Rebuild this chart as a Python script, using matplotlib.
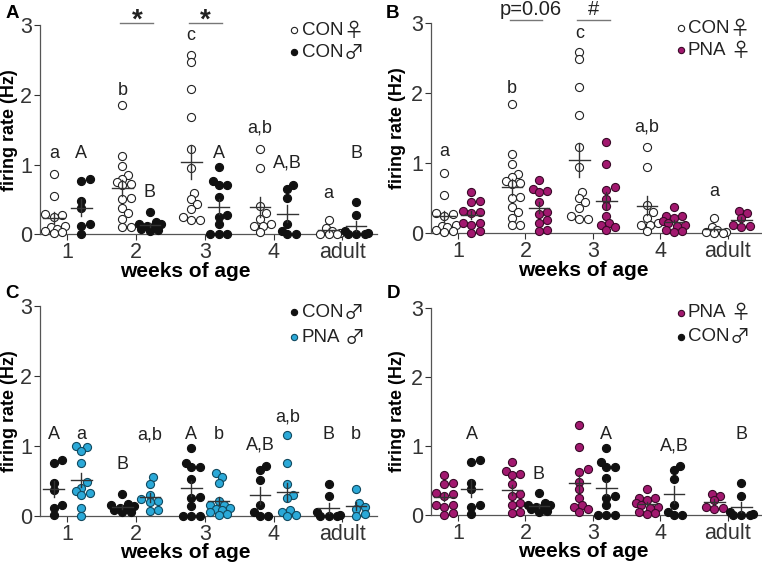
import numpy as np
import matplotlib
matplotlib.use('Agg')
import matplotlib.pyplot as plt

plt.rcParams['font.family'] = ['Liberation Sans', 'DejaVu Sans']

""" Data (firing rate, Hz) """

weeks = ['1', '2', '3', '4', 'adult']

con_f = [
    [0.86, 0.55, 0.29, 0.27, 0.25, 0.12, 0.10, 0.08, 0.04, 0.02, 0.03],
    [1.85, 1.13, 0.98, 0.85, 0.80, 0.75, 0.72, 0.70, 0.52, 0.50, 0.37, 0.30, 0.22, 0.11, 0.11],
    [2.58, 2.48, 2.08, 1.68, 1.23, 0.95, 0.59, 0.50, 0.44, 0.36, 0.24, 0.20, 0.20],
    [1.23, 0.95, 0.40, 0.30, 0.22, 0.15, 0.12, 0.12, 0.03],
    [0.21, 0.09, 0.05, 0.02, 0.01, 0.0, 0.0],
]
con_m = [
    [0.80, 0.76, 0.47, 0.37, 0.15, 0.12, 0.01],
    [0.32, 0.17, 0.15, 0.14, 0.12, 0.10, 0.08, 0.06, 0.05],
    [0.97, 0.76, 0.70, 0.70, 0.53, 0.27, 0.25, 0.14, 0.0, 0.0, 0.0],
    [0.71, 0.65, 0.52, 0.15, 0.05, 0.0, 0.0],
    [0.46, 0.28, 0.05, 0.02, 0.0, 0.0, 0.0],
]
pna_f = [
    [0.58, 0.46, 0.45, 0.32, 0.30, 0.28, 0.14, 0.14, 0.12, 0.03, 0.0],
    [0.76, 0.63, 0.60, 0.58, 0.45, 0.30, 0.27, 0.18, 0.15, 0.05, 0.03],
    [1.30, 0.98, 0.66, 0.62, 0.48, 0.38, 0.25, 0.15, 0.12, 0.08, 0.05],
    [0.37, 0.25, 0.24, 0.22, 0.17, 0.14, 0.12, 0.10, 0.05, 0.03, 0.02],
    [0.31, 0.28, 0.22, 0.12, 0.10, 0.08],
]
pna_m = [
    [1.0, 0.98, 0.93, 0.75, 0.48, 0.40, 0.35, 0.33, 0.30, 0.12, 0.0],
    [0.55, 0.46, 0.30, 0.24, 0.22, 0.20, 0.08, 0.07],
    [0.62, 0.56, 0.47, 0.22, 0.15, 0.15, 0.12, 0.10, 0.08, 0.05, 0.03, 0.02],
    [1.16, 0.76, 0.45, 0.30, 0.25, 0.08, 0.06, 0.02, 0.0],
    [0.38, 0.19, 0.13, 0.10, 0.03, 0.0],
]

# letters above groups: (week index, side -1 left / +1 right, label, height)
letters_A = [(0, -1, 'a', 1.16), (0, 1, 'A', 1.16), (1, -1, 'b', 2.07), (1, 1, 'B', 0.60),
             (2, -1, 'c', 2.85), (2, 1, 'A', 1.16), (3, -1, 'a,b', 1.52), (3, 1, 'A,B', 1.02),
             (4, -1, 'a', 0.59), (4, 1, 'B', 1.16)]
letters_B = [(0, -1, 'a', 1.16), (1, -1, 'b', 2.07), (2, -1, 'c', 2.85),
             (3, -1, 'a,b', 1.52), (4, -1, 'a', 0.59)]
letters_C = [(0, -1, 'A', 1.16), (0, 1, 'a', 1.16), (1, -1, 'B', 0.73), (1, 1, 'a,b', 1.16),
             (2, -1, 'A', 1.16), (2, 1, 'b', 1.16), (3, -1, 'A,B', 1.02), (3, 1, 'a,b', 1.42),
             (4, -1, 'B', 1.16), (4, 1, 'b', 1.16)]
letters_D = [(0, 1, 'A', 1.16), (1, 1, 'B', 0.58), (2, 1, 'A', 1.16),
             (3, 1, 'A,B', 1.0), (4, 1, 'B', 1.16)]

sig_A = [(1, '*'), (2, '*')]
sig_B = [(1, 'p=0.06'), (2, '#')]

magenta = '#A2186F'
cyan = '#2BA9D8'
styles = {
    'con_f': dict(fc='white', ec='#222222', name='CON', sym='\u2640'),
    'con_m': dict(fc='#111111', ec='#111111', name='CON', sym='\u2642'),
    'pna_f': dict(fc=magenta, ec='#3a0a28', name='PNA', sym='\u2640'),
    'pna_m': dict(fc=cyan, ec='#114a60', name='PNA', sym='\u2642'),
}
groups = {'con_f': con_f, 'con_m': con_m, 'pna_f': pna_f, 'pna_m': pna_m}


def swarm(vals, center, dx=0.118, dy=0.115, maxoff=1.4):
    """deterministic beeswarm offsets (in marker diameters), allowing some overlap"""
    vals = np.asarray(vals, float)
    xs = np.full(len(vals), center)
    placed = []
    cands = [0.0]
    k = 1
    while k * 0.35 <= maxoff:
        cands += [k * 0.35, -k * 0.35]
        k += 1
    for i in np.argsort(vals):
        y = vals[i] / dy
        best, bestd = 0.0, -1
        for c in cands:
            d = min([np.hypot(c - px, y - py) for px, py in placed] or [9])
            if d >= 0.8:
                best = c
                break
            if d > bestd:
                best, bestd = c, d
        placed.append((best, y))
        xs[i] = center + best * dx
    return xs


def draw_panel(ax, left, right, letters, sig, leg_y, xlab_x, ylab_x):
    for side, key in ((-1, left), (1, right)):
        st = styles[key]
        for w, vals in enumerate(groups[key]):
            cx = w + 1 + side * 0.2
            xs = swarm(vals, cx)
            ax.scatter(xs, vals, s=34, facecolor=st['fc'], edgecolor=st['ec'],
                       linewidth=0.8, zorder=3, clip_on=False)
            m = np.mean(vals)
            sem = np.std(vals, ddof=1) / np.sqrt(len(vals))
            ax.plot([cx - 0.15, cx + 0.15], [m, m], color='#333333', lw=1.0, zorder=4)
            ax.plot([cx, cx], [m - sem, m + sem], color='#333333', lw=1.0, zorder=4)
    for w, side, txt, h in letters:
        ax.text(w + 1 + side * 0.2, h, txt, ha='center', va='center', fontsize=13,
                color='#222222')
    for w, txt in sig:
        x0, x1 = w + 1 - 0.23, w + 1 + 0.25
        ax.plot([x0, x1], [3.04, 3.04], color='#777777', lw=1.0, clip_on=False)
        if txt == '*':
            ax.text((x0 + x1) / 2, 2.97, txt, ha='center', va='baseline', fontsize=20,
                    fontweight='bold', color='#222222')
        else:
            xc = (x0 + x1) / 2 + (0.07 if txt == 'p=0.06' else 0.0)
            ax.text(xc, 3.11, txt, ha='center', va='baseline', fontsize=14.5,
                    color='#222222')

    ax.set_xlim(0.6, 5.5)
    ax.set_ylim(0, 3)
    ax.set_xticks([1, 2, 3, 4, 5])
    ax.set_xticklabels(weeks)
    ax.set_yticks([0, 1, 2, 3])
    ax.tick_params(labelsize=15.5, colors='#333333', length=4, width=0.8)
    ax.tick_params(axis='x', pad=1.5)
    ax.tick_params(axis='y', pad=1.5)
    for s in ('top', 'right'):
        ax.spines[s].set_visible(False)
    for s in ('left', 'bottom'):
        ax.spines[s].set_color('#555555')
        ax.spines[s].set_linewidth(0.9)
    ax.set_ylabel('firing rate (Hz)', fontsize=13, fontweight='bold')
    ax.yaxis.set_label_coords(ylab_x, 0.5)
    ax.set_xlabel('weeks of age', fontsize=15, fontweight='bold')
    # keep the x label a fixed 27 px below the axis whatever the axes height
    h_px = ax.get_position().height * ax.figure.get_size_inches()[1] * ax.figure.dpi
    ax.xaxis.set_label_coords(xlab_x, -27.5 / h_px)
    ax.xaxis.label.set_va('top')

    # legend, drawn by hand so the sex symbols can be large
    rend = ax.figure.canvas.get_renderer()
    for key, yy in zip((left, right), leg_y):
        st = styles[key]
        ax.plot([0.755], [yy], marker='o', ls='', ms=4.5, mfc=st['fc'], mec=st['ec'],
                mew=0.8, transform=ax.transAxes, clip_on=False)
        t = ax.text(0.777, yy, st['name'], transform=ax.transAxes, ha='left',
                    va='center', fontsize=13.5, color='#222222')
        bb = t.get_window_extent(renderer=rend)
        x_end = ax.transAxes.inverted().transform((bb.x1, bb.y0))[0]
        gap = 0.0 if st['name'] == 'CON' else 0.012
        ax.text(x_end + gap, yy - 0.005, st['sym'], transform=ax.transAxes, ha='left',
                va='center', fontsize=14.5, color='#222222',
                family=['Noto Sans CJK JP', 'DejaVu Sans'])


fig = plt.figure(figsize=(7.62, 5.63), dpi=100)
axA = fig.add_axes([0.0525, 0.584, 0.442, 0.371])
axB = fig.add_axes([0.5656, 0.586, 0.434, 0.373])
axC = fig.add_axes([0.0525, 0.0835, 0.442, 0.373])
axD = fig.add_axes([0.5656, 0.0853, 0.434, 0.368])

draw_panel(axA, 'con_f', 'con_m', letters_A, sig_A, (0.976, 0.871), 0.43, -0.064)
draw_panel(axB, 'con_f', 'pna_f', letters_B, sig_B, (0.976, 0.871), 0.46, -0.077)
draw_panel(axC, 'con_m', 'pna_m', letters_C, [], (0.971, 0.852), 0.43, -0.064)
draw_panel(axD, 'pna_f', 'con_m', letters_D, [], (0.976, 0.86), 0.46, -0.077)

for lab, px, py in (('A', 12, 13), ('B', 392, 13), ('C', 12, 293), ('D', 393, 293)):
    fig.text(px / 762, 1 - py / 563, lab, fontsize=13.5, fontweight='bold',
             ha='center', va='center')

fig.savefig('out.png', dpi=100)
